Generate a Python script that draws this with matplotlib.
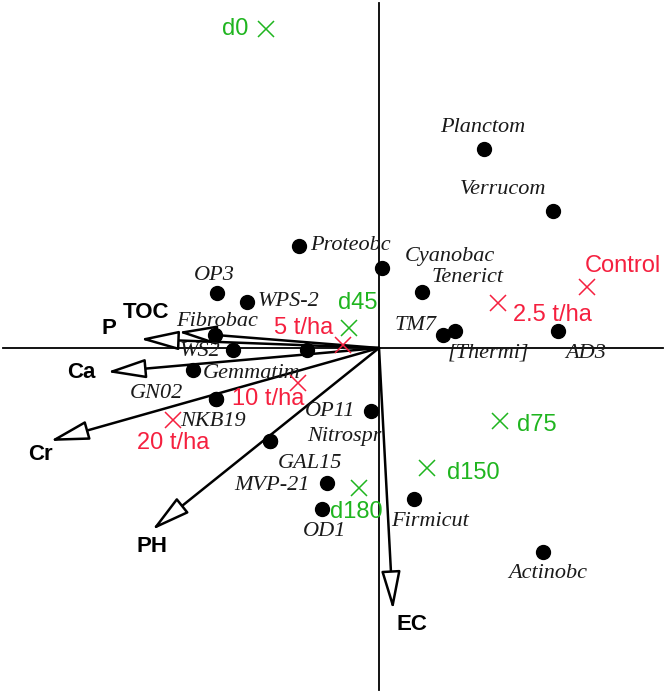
import matplotlib.pyplot as plt

# species scores (black dots)
sp_names = ['Planctom', 'Verrucom', 'Proteobc', 'Cyanobac', 'Tenerict', 'OP3', 'WPS-2',
            'Fibrobac', 'TM7', '[Thermi]', 'AD3', 'WS2', '', 'Gemmatim', 'GN02', 'NKB19',
            'OP11', 'Nitrospr', 'GAL15', 'MVP-21', 'OD1', 'Firmicut', 'Actinobc']
sp_x = [1.05, 1.74, -0.80, 0.03, 0.43, -1.62, -1.32, -1.64, 0.64, 0.76, 1.79, -1.46, -0.72,
        -1.86, -1.63, -1.63, -0.08, -1.09, -1.09, -0.52, -0.57, 0.35, 1.64]
sp_y = [1.99, 1.37, 1.02, 0.80, 0.56, 0.55, 0.46, 0.13, 0.13, 0.17, 0.17, -0.02, -0.02,
        -0.22, -0.51, -0.51, -0.63, -0.93, -0.93, -1.35, -1.61, -1.51, -2.04]

# treatment samples (red) and sampling days (green)
trt_names = ['Control', '2.5 t/ha', '5 t/ha', '10 t/ha', '20 t/ha']
trt_x = [2.08, 1.19, -0.36, -0.81, -2.06]
trt_y = [0.61, 0.45, 0.03, -0.35, -0.72]

day_names = ['d0', 'd45', 'd75', 'd150', 'd180']
day_x = [-1.13, -0.30, 1.21, 0.48, -0.20]
day_y = [3.19, 0.20, -0.73, -1.20, -1.40]

# environmental vectors
env_names = ['TOC', 'P', 'Ca', 'Cr', 'PH', 'EC']
env_x = [-2.01, -2.39, -2.72, -3.29, -2.27, 0.14]
env_y = [0.16, 0.09, -0.24, -0.93, -1.82, -2.62]

# label offsets in pixels (dx, dy, ha)
sp_off = {
    'Planctom': (-1, 21, 'center'), 'Verrucom': (-50, 21, 'center'),
    'Proteobc': (11, 0, 'left'), 'Cyanobac': (23, 11, 'left'),
    'Tenerict': (10, 15, 'left'), 'OP3': (-3, 18, 'center'),
    'WPS-2': (11, 0, 'left'), 'Fibrobac': (2, 13, 'center'),
    'TM7': (-6, 10, 'right'), '[Thermi]': (-7, -22, 'left'),
    'AD3': (7, -22, 'left'), 'WS2': (-13, -2, 'right'), '': (0, 0, 'left'),
    'Gemmatim': (10, -3, 'left'), 'GN02': (-33, 6, 'right'),
    'NKB19': (-36, -23, 'left'), 'OP11': (-16, -1, 'right'),
    'Nitrospr': (37, 4, 'left'), 'GAL15': (8, -22, 'left'),
    'MVP-21': (-17, -2, 'right'), 'OD1': (3, -23, 'center'),
    'Firmicut': (16, -23, 'center'), 'Actinobc': (5, -21, 'center'),
}
trt_off = [(36, 21), (54, -12), (-39, 17), (-30, -16), (0, -23)]
day_off = [(-31, 0), (9, 25), (37, -4), (46, -5), (-3, -24)]
env_off = [(-32, 20), (-31, 11), (-26, 0), (-10, -14), (0, -16), (19, -15)]

RED = '#f5203f'
GREEN = '#1fb51f'

fig = plt.figure(figsize=(6.66, 6.95), dpi=100)
ax = fig.add_axes([0, 0, 1, 1])
ax.set_xlim(-3.79, 2.87)
ax.set_ylim(-3.47, 3.48)
ax.axis('off')

ax.plot([-3.76, 2.84], [0, 0], color='black', lw=1.3, zorder=1)
ax.plot([0, 0], [-3.42, 3.45], color='black', lw=1.3, zorder=1)

for name, x, y, (dx, dy) in zip(env_names, env_x, env_y, env_off):
    ax.annotate('', xy=(x, y), xytext=(0, 0),
                arrowprops=dict(arrowstyle='-|>,head_length=1.6,head_width=0.4',
                                fc='white', ec='black', lw=1.8,
                                mutation_scale=15, shrinkA=0, shrinkB=0),
                zorder=2)
    ax.annotate(name, xy=(x, y), xytext=(dx, dy), textcoords='offset pixels',
                ha='center', va='center', fontsize=16, fontweight='bold',
                family='Liberation Sans', zorder=5)

ax.plot(sp_x, sp_y, 'o', color='black', ms=10, zorder=3)
for name, x, y in zip(sp_names, sp_x, sp_y):
    if not name:
        continue
    dx, dy, ha = sp_off[name]
    ax.annotate(name, xy=(x, y), xytext=(dx, dy), textcoords='offset pixels',
                ha=ha, va='center', fontsize=16, style='italic',
                family='Liberation Serif', color='#1a1a1a', zorder=4)

ax.plot(trt_x, trt_y, 'x', color=RED, ms=12, mew=1.1, zorder=4)
for name, x, y, (dx, dy) in zip(trt_names, trt_x, trt_y, trt_off):
    ax.annotate(name, xy=(x, y), xytext=(dx, dy), textcoords='offset pixels',
                ha='center', va='center', fontsize=17, color=RED,
                family='Liberation Sans', zorder=5)

ax.plot(day_x, day_y, 'x', color=GREEN, ms=12, mew=1.1, zorder=4)
for name, x, y, (dx, dy) in zip(day_names, day_x, day_y, day_off):
    ax.annotate(name, xy=(x, y), xytext=(dx, dy), textcoords='offset pixels',
                ha='center', va='center', fontsize=17, color=GREEN,
                family='Liberation Sans', zorder=5)

fig.savefig('out.png', dpi=100)
